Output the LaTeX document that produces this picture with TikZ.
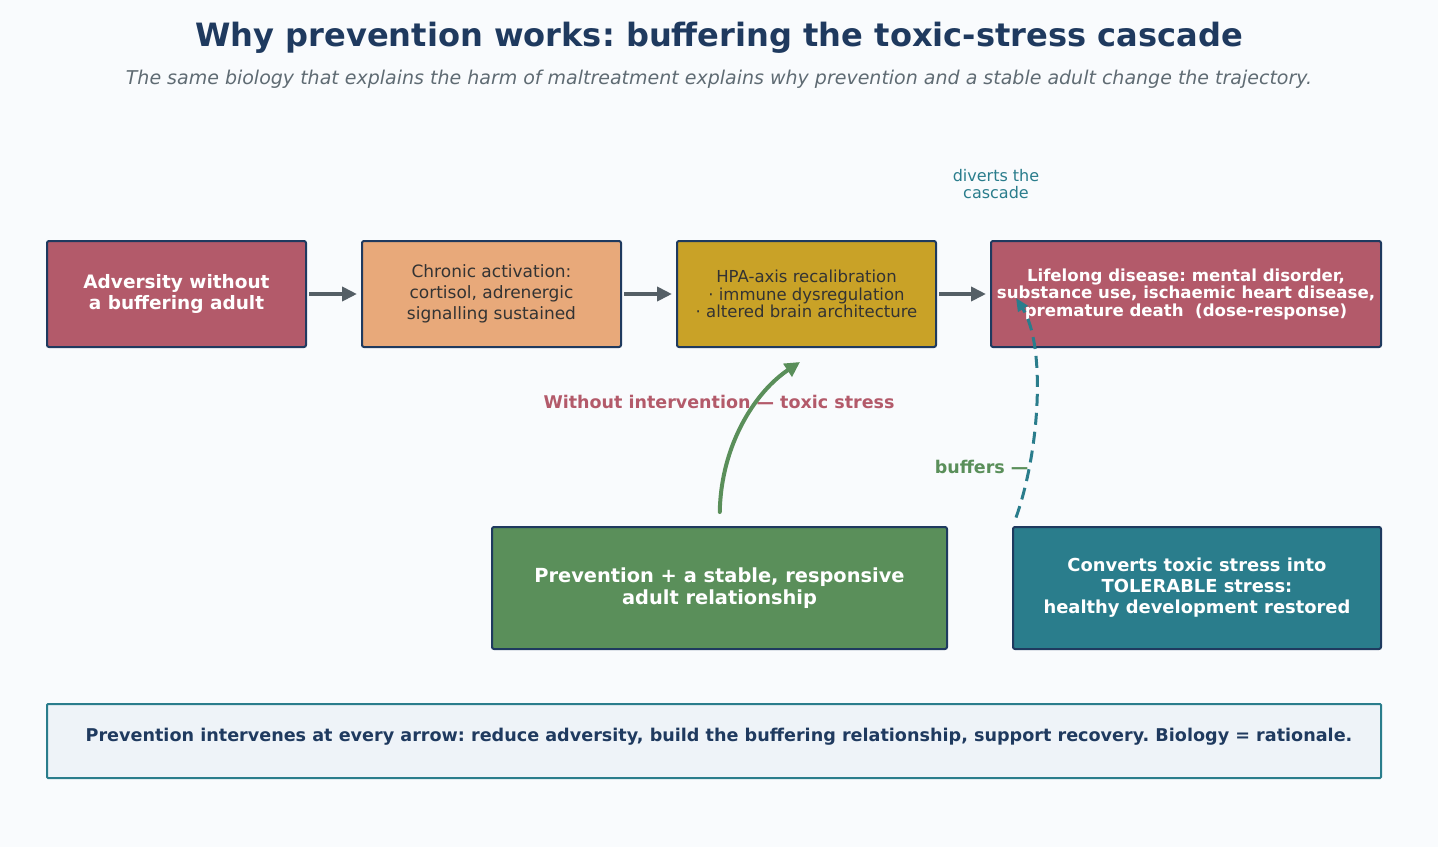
\documentclass[tikz,border=0pt]{standalone}
\usepackage{fontspec}
\setmainfont{DejaVu Sans}
\usetikzlibrary{arrows.meta}
\frenchspacing
\definecolor{navy}{HTML}{1F3A5F}
\definecolor{rose}{HTML}{B35A6A}
\definecolor{peach}{HTML}{E8A97A}
\definecolor{mustard}{HTML}{C9A227}
\definecolor{leaf}{HTML}{5A8F5A}
\definecolor{tealbox}{HTML}{2A7D8C}
\definecolor{slate}{HTML}{555F66}
\definecolor{subgray}{HTML}{5F6B73}
\definecolor{ink}{HTML}{333333}
\definecolor{paper}{HTML}{F9FBFD}
\definecolor{notefill}{HTML}{EEF3F8}
\begin{document}
\begin{tikzpicture}[x=1pt,y=-1pt,
    box/.style={draw=navy,line width=2pt,rounded corners=2pt,align=center,inner sep=0pt},
    flow/.style={-{Triangle[length=15pt,width=14pt]},line width=4pt,slate,shorten <=2pt,shorten >=4pt}]
    % page
    \useasboundingbox (0,0) rectangle (1438,847);
    \fill[paper] (0,0) rectangle (1438,847);
    % title and subtitle
    \node[text=navy,font=\fontsize{32.1}{38}\selectfont\bfseries] (title) at (719,38)
        {Why prevention works: buffering the toxic-stress cascade};
    \node[text=subgray,font=\fontsize{19}{23}\selectfont\itshape] (subtitle) at (719,79.5)
        {The same biology that explains the harm of maltreatment explains why prevention and a stable adult change the trajectory.};
    % cascade row
    \node[box,fill=rose,text=white,minimum width=259pt,minimum height=106pt,
          font=\fontsize{18.5}{21}\selectfont\bfseries] (adversity) at (176.5,294)
        {Adversity without\\a buffering adult};
    \node[box,fill=peach,text=ink,minimum width=259pt,minimum height=106pt,
          font=\fontsize{17}{21}\selectfont] (chronic) at (491.5,294)
        {Chronic activation:\\cortisol, adrenergic\\signalling sustained};
    \node[box,fill=mustard,text=ink,minimum width=259pt,minimum height=106pt,
          font=\fontsize{16.5}{17.5}\selectfont] (hpa) at (806.5,294)
        {HPA-axis recalibration\\· immune dysregulation\\· altered brain architecture};
    \node[box,fill=rose,text=white,minimum width=390pt,minimum height=106pt,
          font=\fontsize{16.6}{17.5}\selectfont\bfseries] (disease) at (1186,294)
        {Lifelong disease: mental disorder,\\substance use, ischaemic heart disease,\\premature death\ \ (dose-response)};
    \draw[flow] (adversity) -- (chronic);
    \draw[flow] (chronic) -- (hpa);
    \draw[flow] (hpa) -- (disease);
    \node[text=tealbox,align=center,font=\fontsize{16}{17}\selectfont] (divert) at (996,184)
        {diverts the\\cascade};
    % buffering row
    \node[box,fill=leaf,text=white,minimum width=455pt,minimum height=122pt,
          font=\fontsize{19.4}{22}\selectfont\bfseries] (prevent) at (719.5,588)
        {Prevention + a stable, responsive\\adult relationship};
    \node[box,fill=tealbox,text=white,minimum width=368pt,minimum height=122pt,
          font=\fontsize{17.9}{21}\selectfont\bfseries] (convert) at (1197,588)
        {Converts toxic stress into\\TOLERABLE stress:\\healthy development restored};
    % labels under the curves
    \node[text=rose,font=\fontsize{17.5}{21}\selectfont\bfseries] (toxic) at (719,402)
        {Without intervention — toxic stress};
    \node[text=leaf,anchor=east,font=\fontsize{17.5}{21}\selectfont\bfseries] (buffers) at (1032,467)
        {buffers —};
    % curved connectors
    \coordinate (gtip) at (800,362);
    \coordinate (btip) at (1016,298);
    \draw[leaf,line width=4pt,line cap=round,-{Triangle[length=15pt,width=15pt]},shorten <=14pt]
        (prevent.north) .. controls (721,445) and (755,392) .. (gtip);
    \draw[tealbox,line width=3pt,dash pattern=on 12pt off 7pt,-{Triangle[length=13pt,width=11pt]},shorten <=9pt]
        ([xshift=1pt]convert.north west) .. controls (1040,450) and (1046,345) .. (btip);
    % bottom note
    \node[draw=tealbox,line width=2pt,fill=notefill,rounded corners=1pt,
          minimum width=1334pt,minimum height=74pt] (note) at (714,741) {};
    \node[text=navy,font=\fontsize{17.6}{21}\selectfont\bfseries] (notetext) at (719,737)
        {Prevention intervenes at every arrow: reduce adversity, build the buffering relationship, support recovery. Biology = rationale.};
\end{tikzpicture}
\end{document}
